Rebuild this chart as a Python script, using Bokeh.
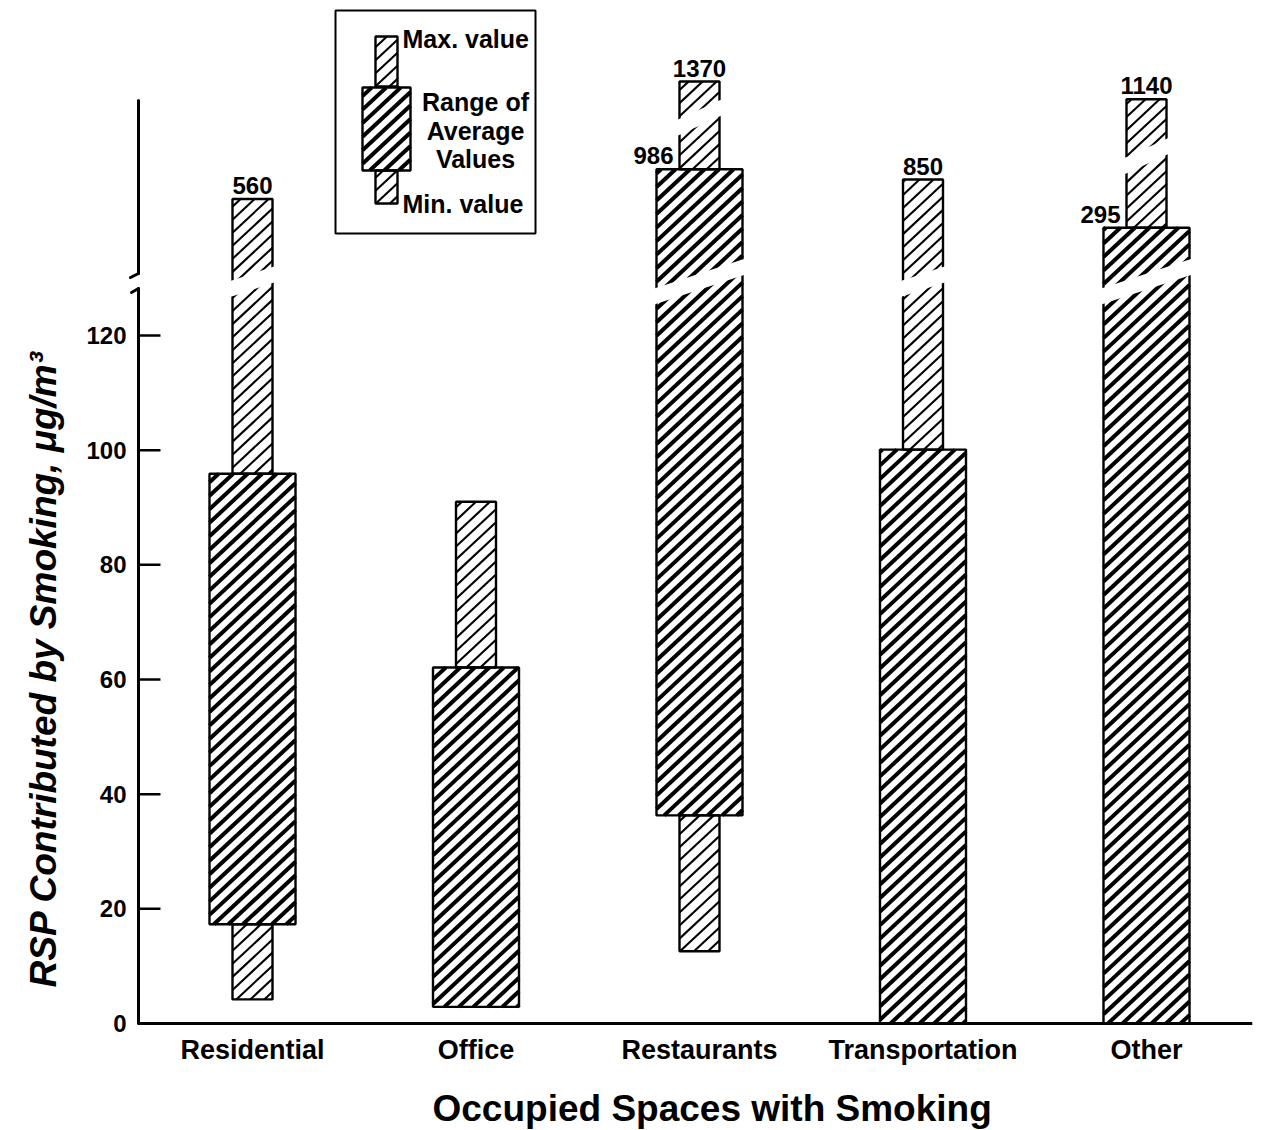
import numpy as np
from bokeh.plotting import figure
from bokeh.models import FixedTicker, Label, ColumnDataSource, Title
from bokeh.core.properties import value
from bokeh.embed import file_html
from bokeh.resources import INLINE

# ---------------- data ----------------
categories = ["Residential", "Office", "Restaurants", "Transportation", "Other"]
min_value = [4.2, 2.9, 12.6, 0.0, 0.0]
avg_low = [17.3, 2.9, 36.3, 0.0, 0.0]
avg_high = [95.9, 62.1, 986, 100.1, 295]
max_value = [560, 91.0, 1370, 850, 1140]
y_ticks = [0, 20, 40, 60, 80, 100, 120]

# ---------------- broken (schematic) axis scale ----------------
LINEAR_TOP = 128.0
UPPER_V = [128, 295, 560, 850, 986, 1140, 1370]
UPPER_D = [128.0, 138.8, 143.8, 147.2, 149.0, 161.2, 164.3]


def disp(v):
    if v <= LINEAR_TOP:
        return float(v)
    return float(np.interp(v, UPPER_V, UPPER_D))


# layout helpers (screen pixel -> plot units), used for decorations only
Y0_PX, PX_Y = 1023.0, 5.7333
X0_PX, PX_X = 252.0, 223.5


def xpx(px):
    return (px - X0_PX) / PX_X


def ypx(py):
    return (Y0_PX - py) / PX_Y


FONT = "Liberation Sans"
AVG_W = 86 / PX_X
EXT_W = 40 / PX_X

p = figure(frame_width=1125, frame_height=1019,
           x_range=(xpx(127), xpx(1252)), y_range=(ypx(1027), ypx(8)),
           min_border_left=127, min_border_right=6, min_border_top=8,
           min_border_bottom=95, output_backend="svg", toolbar_location=None)
p.outline_line_color = None
p.grid.visible = False
p.background_fill_color = "white"
p.border_fill_color = "white"

# axes: labels only, lines drawn below
p.yaxis.ticker = FixedTicker(ticks=y_ticks)
p.yaxis.axis_line_color = None
p.yaxis.major_tick_line_color = None
p.yaxis.minor_tick_line_color = None
p.yaxis.major_label_text_font = FONT
p.yaxis.major_label_text_font_style = "bold"
p.yaxis.major_label_text_font_size = "24px"
p.yaxis.major_label_text_color = "black"
p.yaxis.major_label_standoff = -5

p.xaxis.ticker = FixedTicker(ticks=list(range(len(categories))))
p.xaxis.major_label_overrides = {i: c for i, c in enumerate(categories)}
p.xaxis.axis_line_color = None
p.xaxis.major_tick_line_color = None
p.xaxis.minor_tick_line_color = None
p.xaxis.major_label_text_font = FONT
p.xaxis.major_label_text_font_style = "bold"
p.xaxis.major_label_text_font_size = "27px"
p.xaxis.major_label_text_color = "black"
p.xaxis.major_label_standoff = 1

idx = list(range(len(categories)))


# ---------------- hatching (diagonal lines clipped to rectangles) ----------------
def hatch(rects, period_px, angle_deg):
    t = np.tan(np.radians(angle_deg))
    dc = period_px * t
    x0s, y0s, x1s, y1s = [], [], [], []
    for xl, xr, yb, yt in rects:
        X0, X1, Y0, Y1 = xl * PX_X, xr * PX_X, yb * PX_Y, yt * PX_Y
        k0 = int(np.ceil((Y0 - X1 * t) / dc))
        k1 = int(np.floor((Y1 - X0 * t) / dc))
        for k in range(k0, k1 + 1):
            c = k * dc
            xa = max(X0, (Y0 - c) / t)
            xb = min(X1, (Y1 - c) / t)
            if xb - xa < 0.8:
                continue
            x0s.append(xa / PX_X)
            y0s.append((xa * t + c) / PX_Y)
            x1s.append(xb / PX_X)
            y1s.append((xb * t + c) / PX_Y)
    return x0s, y0s, x1s, y1s


light_rects = []
heavy_rects = []
for i in idx:
    if min_value[i] < avg_low[i]:
        light_rects.append((i - EXT_W / 2, i + EXT_W / 2, min_value[i], avg_low[i]))
    light_rects.append((i - EXT_W / 2, i + EXT_W / 2, disp(avg_high[i]), disp(max_value[i])))
    heavy_rects.append((i - AVG_W / 2, i + AVG_W / 2, avg_low[i], disp(avg_high[i])))

# legend sample glyph rectangles
lx = xpx(386)
leg_light = [(lx - 11 / PX_X, lx + 11 / PX_X, ypx(86), ypx(36)),
             (lx - 11 / PX_X, lx + 11 / PX_X, ypx(203), ypx(170))]
leg_heavy = [(lx - 24 / PX_X, lx + 24 / PX_X, ypx(170), ypx(87))]

# legend box
p.quad(left=[xpx(335)], right=[xpx(535)], top=[ypx(10)], bottom=[ypx(233)],
       fill_color="white", line_color="black", line_width=2)

for rects, period, weight in [(light_rects + leg_light, 14, 2.1),
                              (heavy_rects + leg_heavy, 14.5, 4.0)]:
    a, b, c, d = hatch(rects, period, 43)
    p.segment(x0=a, y0=b, x1=c, y1=d, line_color="black", line_width=weight,
              line_cap="butt")
    p.quad(left=[r[0] for r in rects], right=[r[1] for r in rects],
           bottom=[r[2] for r in rects], top=[r[3] for r in rects],
           fill_color=None, line_color="black", line_width=2.4)

# ---------------- break gaps ----------------
GAP_Y = 129.4
GAP_H = 2.8
GAP_SLOPE = 0.33 * PX_X / PX_Y
UP_GAP_Y = [None, None, 158.0, None, 151.3]
UP_GAP_SLOPE = 0.46 * PX_X / PX_Y
PAD = 3 / PX_X

gx, gy = [], []


def add_gap(xc, w, yc, slope):
    x0, x1 = xc - w / 2 - PAD, xc + w / 2 + PAD
    b0 = yc - GAP_H / 2 + slope * (x0 - xc)
    b1 = yc - GAP_H / 2 + slope * (x1 - xc)
    gx.append([x0, x1, x1, x0])
    gy.append([b0, b1, b1 + GAP_H, b0 + GAP_H])


for i in idx:
    segs = [(EXT_W, disp(avg_high[i]), disp(max_value[i])),
            (AVG_W, avg_low[i], disp(avg_high[i]))]
    for w, lo, hi in segs:
        if lo < GAP_Y < hi:
            add_gap(i, w, GAP_Y, GAP_SLOPE)
    if UP_GAP_Y[i] is not None:
        add_gap(i, EXT_W, UP_GAP_Y[i], UP_GAP_SLOPE)

p.patches(xs=gx, ys=gy, fill_color="white", line_color=None)

# ---------------- axis lines ----------------
xa = xpx(138)
p.segment(x0=[xa, xa, xa, xa], y0=[0, ypx(288), ypx(273), ypx(273)],
          x1=[xa, xpx(131), xa, xpx(130)], y1=[ypx(288), ypx(292), ypx(100), ypx(277)],
          line_color="black", line_width=3, line_cap="round")
p.segment(x0=[xa], y0=[0], x1=[xpx(1252)], y1=[0], line_color="black", line_width=3)
p.segment(x0=[xa] * len(y_ticks), y0=y_ticks, x1=[xpx(160)] * len(y_ticks), y1=y_ticks,
          line_color="black", line_width=2.5)

# ---------------- value labels ----------------
top_src = ColumnDataSource(dict(
    x=[i for i in idx if max_value[i] > LINEAR_TOP],
    y=[disp(max_value[i]) + 5 / PX_Y for i in idx if max_value[i] > LINEAR_TOP],
    t=[str(int(max_value[i])) for i in idx if max_value[i] > LINEAR_TOP]))
p.text(x="x", y="y", text="t", source=top_src, text_align="center",
       text_baseline="bottom", text_font=value(FONT), text_font_style="bold",
       text_font_size="24px", text_color="black")
side_src = ColumnDataSource(dict(
    x=[i - EXT_W / 2 - 6 / PX_X for i in idx if avg_high[i] > LINEAR_TOP],
    y=[disp(avg_high[i]) + 5 / PX_Y for i in idx if avg_high[i] > LINEAR_TOP],
    t=[str(int(avg_high[i])) for i in idx if avg_high[i] > LINEAR_TOP]))
p.text(x="x", y="y", text="t", source=side_src, text_align="right",
       text_baseline="bottom", text_font=value(FONT), text_font_style="bold",
       text_font_size="24px", text_color="black")

# ---------------- legend texts ----------------
for txt, x, y, align in [("Max. value", xpx(402), ypx(38), "left"),
                         ("Range of", xpx(475), ypx(101), "center"),
                         ("Average", xpx(475), ypx(130), "center"),
                         ("Values", xpx(475), ypx(158), "center"),
                         ("Min. value", xpx(402), ypx(203), "left")]:
    p.add_layout(Label(x=x, y=y, text=txt, text_align=align, text_baseline="middle",
                       text_font=FONT, text_font_style="bold", text_font_size="25px",
                       text_color="black"))

# ---------------- axis titles (side titles) ----------------
p.add_layout(Title(text="RSP Contributed by Smoking, \u03bcg/m\u00b3", align="left",
                   offset=40, standoff=40, text_font=FONT, text_font_style="bold italic",
                   text_font_size="37px", text_color="black"), "left")
p.add_layout(Title(text="Occupied  Spaces  with Smoking", align="left", offset=305,
                   standoff=36, text_font=FONT, text_font_style="bold", text_font_size="37px",
                   text_color="black"), "below")

open("out.html", "w").write(file_html(p, INLINE))
